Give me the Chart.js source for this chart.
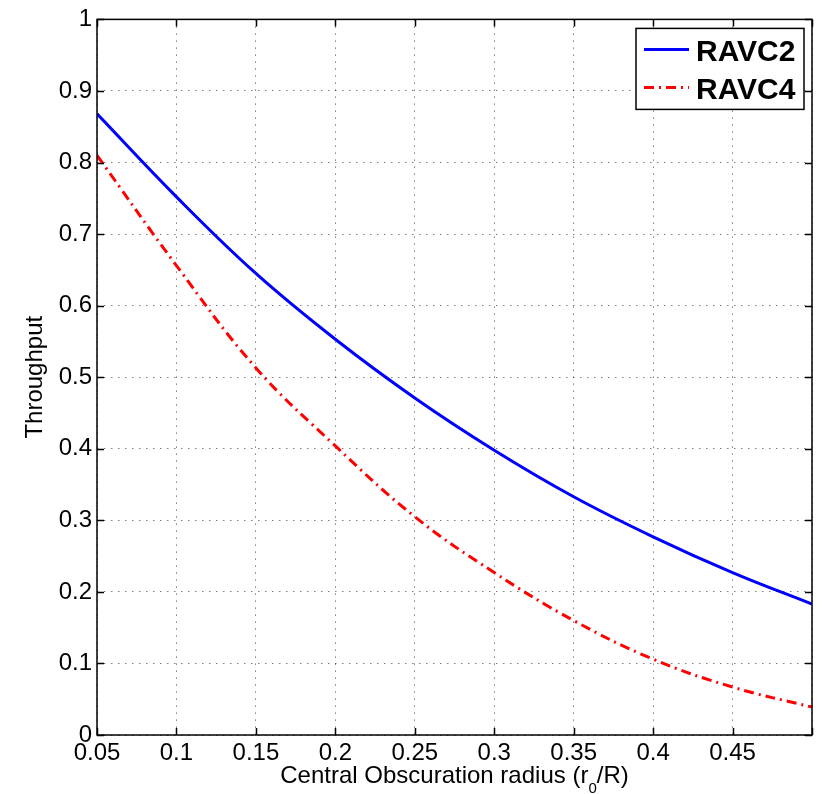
<!DOCTYPE html>
<html>
<head>
<meta charset="utf-8">
<script src="https://cdn.jsdelivr.net/npm/chart.js@4/dist/chart.umd.min.js"></script>
<style>
  html, body { margin: 0; padding: 0; background: #ffffff; }
  canvas { display: block; }
</style>
</head>
<body>
<canvas id="throughput" width="834" height="794"></canvas>
<script>
// Central obscuration radius r0/R
const radius = [0.05, 0.10, 0.15, 0.20, 0.25, 0.30, 0.35, 0.40, 0.45, 0.50];
// Throughput of each ring-apodized vortex coronagraph
const ravc2 = [0.868, 0.752, 0.645, 0.553, 0.471, 0.398, 0.333, 0.277, 0.227, 0.183];
const ravc4 = [0.810, 0.656, 0.513, 0.404, 0.305, 0.227, 0.160, 0.106, 0.067, 0.039];
const seriesNames = ['RAVC2', 'RAVC4'];

const xTickValues = [0.05, 0.10, 0.15, 0.20, 0.25, 0.30, 0.35, 0.40, 0.45, 0.50];
const xTickLabels = ['0.05', '0.1', '0.15', '0.2', '0.25', '0.3', '0.35', '0.4', '0.45', ''];
const yTickValues = [0, 0.1, 0.2, 0.3, 0.4, 0.5, 0.6, 0.7, 0.8, 0.9, 1];
const yTickLabels = ['0', '0.1', '0.2', '0.3', '0.4', '0.5', '0.6', '0.7', '0.8', '0.9', '1'];

const FONT = '"Liberation Sans", Arial, Helvetica, sans-serif';
const seriesColors = ['#0000ff', '#ff0000'];
const seriesDash = [[], [10, 5, 2, 5]];

const toPoints = ys => radius.map((r, i) => ({ x: r, y: ys[i] }));

// Box, inward tick marks, legend and x-axis title in the style of a MATLAB figure
const figureFrame = {
  id: 'figureFrame',
  afterDatasetsDraw(chart) {
    const { ctx, chartArea: a, scales: { x, y } } = chart;
    ctx.save();
    ctx.strokeStyle = '#000';
    ctx.lineWidth = 1.5;
    ctx.setLineDash([]);
    const tl = 7;
    ctx.beginPath();
    xTickValues.forEach(v => {
      const px = Math.round(x.getPixelForValue(v)) + 0.5;
      ctx.moveTo(px, a.bottom); ctx.lineTo(px, a.bottom - tl);
      ctx.moveTo(px, a.top); ctx.lineTo(px, a.top + tl);
    });
    yTickValues.forEach(v => {
      const py = Math.round(y.getPixelForValue(v)) + 0.5;
      ctx.moveTo(a.left, py); ctx.lineTo(a.left + tl, py);
      ctx.moveTo(a.right, py); ctx.lineTo(a.right - tl, py);
    });
    ctx.stroke();
    ctx.strokeRect(a.left, a.top, a.right - a.left, a.bottom - a.top);
    ctx.restore();
  },
  afterDraw(chart) {
    const { ctx, chartArea: a } = chart;
    ctx.save();

    // Legend box in the upper right corner
    const bw = 168, bh = 81;
    const bx = a.right - 8 - bw, by = a.top + 9;
    ctx.fillStyle = '#fff';
    ctx.fillRect(bx, by, bw, bh);
    ctx.strokeStyle = '#000';
    ctx.lineWidth = 1.5;
    ctx.strokeRect(bx, by, bw, bh);
    chart.data.datasets.forEach((ds, i) => {
      const ly = by + 21 + i * 38;
      ctx.strokeStyle = ds.borderColor;
      ctx.lineWidth = 3;
      ctx.setLineDash(ds.borderDash || []);
      ctx.beginPath();
      ctx.moveTo(bx + 8, ly);
      ctx.lineTo(bx + 53, ly);
      ctx.stroke();
      ctx.setLineDash([]);
      ctx.fillStyle = '#000';
      ctx.font = 'bold 30px ' + FONT;
      ctx.textAlign = 'left';
      ctx.textBaseline = 'alphabetic';
      ctx.fillText(ds.label, bx + 60, by + 33 + i * 38);
    });

    // X-axis title with a subscript
    const parts = [
      { t: 'Central Obscuration radius (r', size: 24, dy: 0 },
      { t: '0', size: 15, dy: 10 },
      { t: '/R)', size: 24, dy: 0 }
    ];
    let total = 0;
    parts.forEach(p => { ctx.font = p.size + 'px ' + FONT; p.w = ctx.measureText(p.t).width; total += p.w; });
    let tx = (a.left + a.right) / 2 - total / 2;
    const base = 783;
    ctx.fillStyle = '#000';
    ctx.textAlign = 'left';
    ctx.textBaseline = 'alphabetic';
    parts.forEach(p => {
      ctx.font = p.size + 'px ' + FONT;
      ctx.fillText(p.t, tx, base + p.dy);
      tx += p.w;
    });
    ctx.restore();
  }
};

new Chart(document.getElementById('throughput'), {
  type: 'line',
  data: {
    datasets: [
      { label: seriesNames[0], data: toPoints(ravc2), borderColor: seriesColors[0], borderWidth: 3,
        borderDash: seriesDash[0], pointRadius: 0, tension: 0.4, fill: false },
      { label: seriesNames[1], data: toPoints(ravc4), borderColor: seriesColors[1], borderWidth: 3,
        borderDash: seriesDash[1], pointRadius: 0, tension: 0.4, fill: false }
    ]
  },
  options: {
    responsive: false,
    animation: false,
    events: [],
    layout: { padding: { top: 18, right: 22, bottom: 0, left: 0 } },
    plugins: { legend: { display: false }, tooltip: { enabled: false } },
    scales: {
      x: {
        type: 'linear',
        min: 0.05, max: 0.5,
        afterBuildTicks: s => { s.ticks = xTickValues.map(v => ({ value: v })); },
        afterFit: s => { s.height = 59; },
        ticks: {
          autoSkip: false, maxRotation: 0, padding: 4, color: '#000',
          font: { family: FONT, size: 24 },
          callback: (v, i) => xTickLabels[i]
        },
        grid: { color: 'rgba(0,0,0,0.5)', lineWidth: 1, drawTicks: false },
        border: { display: false, dash: [1.5, 5.5] }
      },
      y: {
        type: 'linear',
        min: 0, max: 1,
        afterBuildTicks: s => { s.ticks = yTickValues.map(v => ({ value: v })); },
        afterFit: s => { s.width = 97; },
        ticks: {
          autoSkip: false, padding: 5, color: '#000',
          font: { family: FONT, size: 24 },
          callback: (v, i) => yTickLabels[i]
        },
        title: {
          display: true, text: 'Throughput', color: '#000',
          font: { family: FONT, size: 24 },
          padding: { top: 21, bottom: 0 }
        },
        grid: { color: 'rgba(0,0,0,0.5)', lineWidth: 1, drawTicks: false },
        border: { display: false, dash: [1.5, 5.5] }
      }
    }
  },
  plugins: [figureFrame]
});
</script>
</body>
</html>
